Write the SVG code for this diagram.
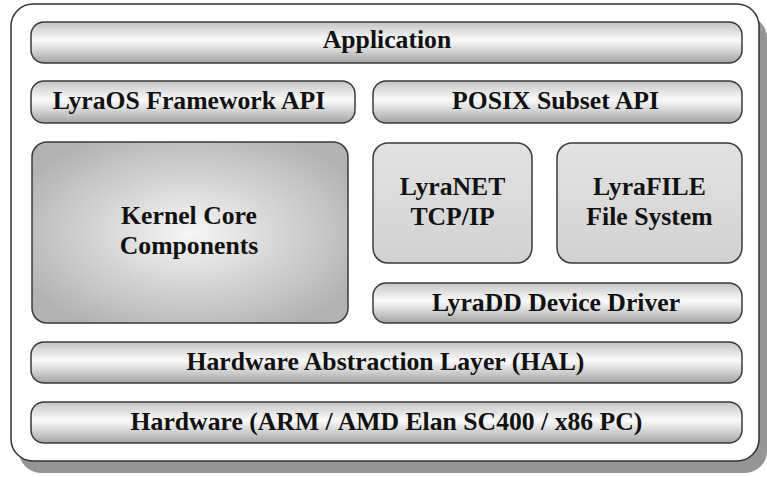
<svg xmlns="http://www.w3.org/2000/svg" width="767" height="477" viewBox="0 0 767 477">
<defs>
<linearGradient id="bar" x1="0" y1="0" x2="0" y2="1">
<stop offset="0" stop-color="#c4c4c4"/>
<stop offset="0.45" stop-color="#fbfbfb"/>
<stop offset="1" stop-color="#a4a4a4"/>
</linearGradient>
<radialGradient id="core" cx="0.5" cy="0.5" r="0.6">
<stop offset="0" stop-color="#f6f6f6"/>
<stop offset="1" stop-color="#b2b2b2"/>
</radialGradient>
<linearGradient id="mod" x1="0" y1="0" x2="0" y2="1">
<stop offset="0" stop-color="#e2e2e2"/>
<stop offset="1" stop-color="#d2d2d2"/>
</linearGradient>
</defs>
<style>
.box{stroke:#3a3a3a;stroke-width:1.5}
.bar{fill:url(#bar)}
.core{fill:url(#core)}
.mod{fill:url(#mod)}
.t{font-weight:bold;font-size:25.7px;fill:#111;text-anchor:middle}
</style>
<g id="frame">
<rect x="19" y="16" width="748" height="457" rx="22" fill="#959595"/>
<rect x="11" y="4" width="748" height="457" rx="22" fill="#ffffff" stroke="#333" stroke-width="1.5"/>
</g>
<g font-family="Liberation Serif, Times New Roman, DejaVu Serif, serif">
<g id="application">
<rect class="box bar" x="31" y="22" width="711" height="41" rx="13"/>
<text class="t" x="387" y="48">Application</text>
</g>
<g id="framework-api">
<rect class="box bar" x="31" y="81" width="324" height="42" rx="13"/>
<text class="t" x="189" y="108.5">LyraOS Framework API</text>
</g>
<g id="posix-api">
<rect class="box bar" x="373" y="81" width="369" height="42" rx="13"/>
<text class="t" x="555.5" y="108.5">POSIX Subset API</text>
</g>
<g id="kernel">
<rect class="box core" x="32" y="142" width="316" height="181" rx="15"/>
<text class="t" x="189" y="223.5">Kernel Core</text>
<text class="t" x="189" y="254">Components</text>
</g>
<g id="lyranet">
<rect class="box mod" x="373" y="143" width="159" height="120" rx="15"/>
<text class="t" x="452.5" y="195">LyraNET</text>
<text class="t" x="452.5" y="225">TCP/IP</text>
</g>
<g id="lyrafile">
<rect class="box mod" x="557" y="143" width="185" height="120" rx="15"/>
<text class="t" x="649.5" y="195">LyraFILE</text>
<text class="t" x="649.5" y="225">File System</text>
</g>
<g id="lyradd">
<rect class="box bar" x="373" y="283" width="369" height="40" rx="13"/>
<text class="t" x="556" y="310.5">LyraDD Device Driver</text>
</g>
<g id="hal">
<rect class="box bar" x="31" y="342" width="711" height="41" rx="13"/>
<text class="t" x="385.5" y="370">Hardware Abstraction Layer (HAL)</text>
</g>
<g id="hardware">
<rect class="box bar" x="31" y="402" width="711" height="41" rx="13"/>
<text class="t" x="386.5" y="430">Hardware (ARM / AMD Elan SC400 / x86 PC)</text>
</g>
</g>
<g id="connectors"></g>
</svg>
